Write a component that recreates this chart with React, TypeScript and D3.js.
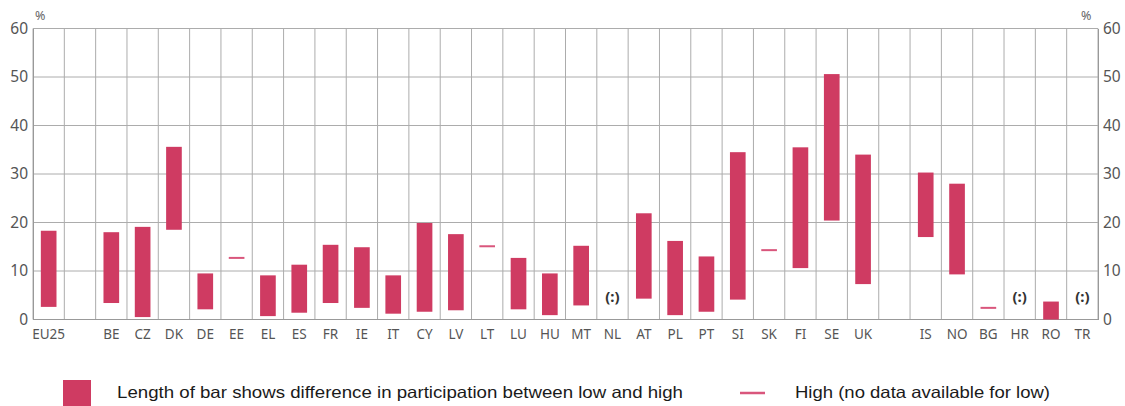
import * as d3 from "d3";
import React, { useEffect, useRef } from "react";

// column order, "" marks an empty spacer column
const countries = [
    "EU25", "", "BE", "CZ", "DK", "DE", "EE", "EL", "ES", "FR", "IE", "IT", "CY",
    "LV", "LT", "LU", "HU", "MT", "NL", "AT", "PL", "PT", "SI", "SK", "FI", "SE",
    "UK", "", "IS", "NO", "BG", "HR", "RO", "TR",
];
// participation of high (top of bar) and low (bottom of bar), null = no data
const high = [
    18.3, null, 18.0, 19.1, 35.6, 9.5, 12.7, 9.1, 11.3, 15.4, 14.9, 9.1, 19.9,
    17.6, 15.1, 12.7, 9.5, 15.2, null, 21.9, 16.2, 13.0, 34.5, 14.3, 35.5, 50.6,
    34.0, null, 30.3, 28.0, 2.4, null, 3.7, null,
];
const low = [
    2.6, null, 3.4, 0.5, 18.5, 2.1, null, 0.7, 1.4, 3.4, 2.4, 1.2, 1.6,
    1.9, null, 2.1, 0.9, 2.9, null, 4.3, 0.9, 1.6, 4.1, null, 10.6, 20.4,
    7.3, null, 17.0, 9.3, null, null, 0.0, null,
];
const notAvailable = ["NL", "HR", "TR"];
const yTicks = [0, 10, 20, 30, 40, 50, 60];

const barColor = "#cf3b62";
const lineColor = "#d9567c";

const App: React.FC = () => {
    const svgRef = useRef<SVGSVGElement>(null);

    useEffect(() => {
        if (!svgRef.current) return;
        svgRef.current.innerHTML = "";

        const keys = countries.map((c, i) => c + "_" + i);
        const x = d3.scaleBand<string>().domain(keys).range([33, 1098]);
        const y = d3.scaleLinear().domain([0, 60]).range([319.5, 28.5]);
        const bw = x.bandwidth() * 0.5;

        const svg = d3.select(svgRef.current);

        // horizontal grid
        svg.append("g")
            .selectAll("line")
            .data(yTicks)
            .enter()
            .append("line")
            .attr("x1", 33)
            .attr("x2", 1098)
            .attr("y1", d => y(d))
            .attr("y2", d => y(d))
            .attr("stroke", "#acacac")
            .attr("stroke-width", 1);

        // vertical grid, one line per column edge
        const edges = keys.map(k => x(k)!).concat([1098]);
        svg.append("g")
            .selectAll("line")
            .data(edges)
            .enter()
            .append("line")
            .attr("x1", d => d)
            .attr("x2", d => d)
            .attr("y1", y(60))
            .attr("y2", y(0))
            .attr("stroke", "#acacac")
            .attr("stroke-width", 1);

        // left and right axes
        svg.append("g")
            .attr("transform", "translate(33,0)")
            .call(d3.axisLeft(y).tickValues(yTicks).tickSize(0).tickPadding(5))
            .call(g => g.select(".domain").attr("stroke", "#999"))
            .call(g =>
                g.selectAll(".tick text")
                    .attr("fill", "#555")
                    .attr("font-size", 15.5)
                    .attr("font-family", "Noto Sans"),
            );
        svg.append("g")
            .attr("transform", "translate(1098,0)")
            .call(d3.axisRight(y).tickValues(yTicks).tickSize(0).tickPadding(5))
            .call(g => g.select(".domain").attr("stroke", "#999"))
            .call(g =>
                g.selectAll(".tick text")
                    .attr("fill", "#555")
                    .attr("font-size", 15.5)
                    .attr("font-family", "Noto Sans"),
            );
        svg.append("line")
            .attr("x1", 33)
            .attr("x2", 1098)
            .attr("y1", y(0))
            .attr("y2", y(0))
            .attr("stroke", "#999");

        svg.append("text")
            .attr("x", 35)
            .attr("y", 20)
            .attr("font-size", 12.5)
            .attr("font-family", "Noto Sans")
            .attr("fill", "#666")
            .text("%");
        svg.append("text")
            .attr("x", 1081)
            .attr("y", 20)
            .attr("font-size", 12.5)
            .attr("font-family", "Noto Sans")
            .attr("fill", "#666")
            .text("%");

        // category labels
        svg.append("g")
            .selectAll("text")
            .data(keys)
            .enter()
            .append("text")
            .attr("x", d => x(d)! + x.bandwidth() / 2)
            .attr("y", 339)
            .attr("text-anchor", "middle")
            .attr("font-size", 13.5)
            .attr("font-family", "Noto Sans")
            .attr("fill", "#555")
            .text((d, i) => countries[i]);

        const rows = keys.map((k, i) => ({ k, c: countries[i], hi: high[i], lo: low[i] }));

        // range bars
        svg.append("g")
            .selectAll("rect")
            .data(rows.filter(r => r.hi !== null && r.lo !== null))
            .enter()
            .append("rect")
            .attr("x", d => x(d.k)! + (x.bandwidth() - bw) / 2)
            .attr("width", bw)
            .attr("y", d => y(d.hi!))
            .attr("height", d => y(d.lo!) - y(d.hi!))
            .attr("fill", barColor);

        // high only markers
        svg.append("g")
            .selectAll("line")
            .data(rows.filter(r => r.hi !== null && r.lo === null))
            .enter()
            .append("line")
            .attr("x1", d => x(d.k)! + (x.bandwidth() - bw) / 2)
            .attr("x2", d => x(d.k)! + (x.bandwidth() + bw) / 2)
            .attr("y1", d => y(d.hi!))
            .attr("y2", d => y(d.hi!))
            .attr("stroke", lineColor)
            .attr("stroke-width", 2);

        // not available
        svg.append("g")
            .selectAll("text")
            .data(rows.filter(r => notAvailable.includes(r.c)))
            .enter()
            .append("text")
            .attr("x", d => x(d.k)! + x.bandwidth() / 2)
            .attr("y", 302)
            .attr("text-anchor", "middle")
            .attr("font-size", 15)
            .attr("font-weight", "bold")
            .attr("font-family", "Noto Sans")
            .attr("fill", "#333")
            .text("(:)");

        // legend
        const legend = svg.append("g").attr("font-family", "Liberation Sans").attr("font-size", 16.5);
        legend.append("rect")
            .attr("x", 63)
            .attr("y", 380)
            .attr("width", 28)
            .attr("height", 26)
            .attr("fill", barColor);
        legend.append("text")
            .attr("x", 117)
            .attr("y", 398)
            .attr("fill", "#1a1a1a")
            .attr("textLength", 566)
            .attr("lengthAdjust", "spacingAndGlyphs")
            .text("Length of bar shows difference in participation between low and high");
        legend.append("line")
            .attr("x1", 740)
            .attr("x2", 765)
            .attr("y1", 393)
            .attr("y2", 393)
            .attr("stroke", lineColor)
            .attr("stroke-width", 2.5);
        legend.append("text")
            .attr("x", 795)
            .attr("y", 398)
            .attr("fill", "#1a1a1a")
            .attr("textLength", 255)
            .attr("lengthAdjust", "spacingAndGlyphs")
            .text("High (no data available for low)");
    }, []);

    return (
        <svg
            ref={svgRef}
            width={1125}
            height={406}
            style={{ position: "absolute", left: 0, top: 0, background: "#fff" }}
        ></svg>
    );
};

export default App;
